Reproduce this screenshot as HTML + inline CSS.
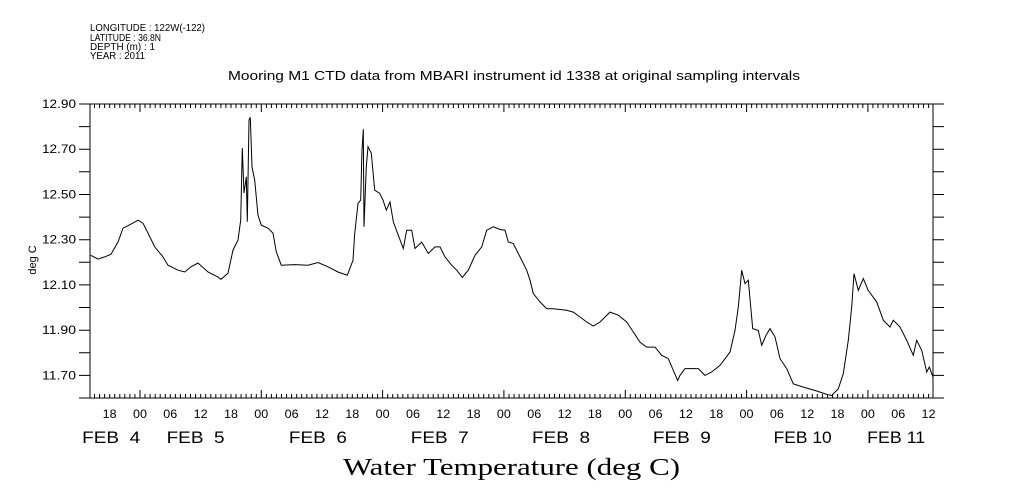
<!DOCTYPE html>
<html><head><meta charset="utf-8">
<style>
html,body{margin:0;padding:0;background:#fff;}
svg{display:block;}
text{font-family:"Liberation Sans",sans-serif;fill:#000;}
</style></head>
<body>
<svg id="chart" width="1009" height="504" viewBox="0 0 1009 504">
  <g font-size="10">
    <text x="90" y="31" textLength="115" lengthAdjust="spacingAndGlyphs">LONGITUDE : 122W(-122)</text>
    <text x="90" y="41" textLength="71" lengthAdjust="spacingAndGlyphs">LATITUDE : 36.8N</text>
    <text x="90" y="50" textLength="65" lengthAdjust="spacingAndGlyphs">DEPTH (m) : 1</text>
    <text x="90" y="59" textLength="55" lengthAdjust="spacingAndGlyphs">YEAR : 2011</text>
  </g>
  <text x="228" y="80" font-size="13" textLength="572" lengthAdjust="spacingAndGlyphs">Mooring M1 CTD data from MBARI instrument id 1338 at original sampling intervals</text>
  <text x="0" y="0" font-size="11" text-anchor="middle" transform="translate(36,260) rotate(-90)">deg C</text>
  <text x="343" y="475" font-size="24" textLength="337" lengthAdjust="spacingAndGlyphs" style="font-family:'Liberation Serif',serif">Water Temperature (deg C)</text>
  <g id="axes"></g>
  <path id="series" fill="none" stroke="#000" stroke-width="1"></path>
</svg>
<script>
// hours relative to FEB 4 00:00 (first labelled "00")
const hours = [-9.75,-8.31,-6.98,-5.74,-4.35,-3.36,-1.78,-0.40,0.59,1.58,2.91,4.55,5.54,7.52,8.84,10.09,11.47,13.45,15.43,16.02,17.41,18.40,19.39,19.92,20.24,20.57,21.03,21.23,21.56,21.82,22.16,22.69,23.34,24.00,25.32,26.31,26.96,27.95,30.60,33.23,35.21,37.19,39.17,41.01,42.14,42.47,43.13,43.66,43.92,44.17,44.31,44.77,45.10,45.76,46.43,47.42,48.07,48.73,49.46,50.11,51.10,52.09,52.76,53.75,54.40,55.73,57.03,58.36,59.35,60.34,61.66,62.65,63.76,64.95,66.27,67.60,68.59,69.89,71.22,72.21,72.86,73.85,75.17,76.50,77.15,77.80,79.13,80.45,81.76,84.41,85.72,87.04,88.37,89.67,91.00,92.98,94.62,96.28,97.59,98.91,100.24,101.88,103.20,104.51,105.50,106.37,106.82,107.81,109.14,110.44,111.77,113.09,114.74,116.72,117.71,118.36,119.03,119.68,120.34,121.21,122.32,122.99,123.84,124.63,125.62,126.61,127.93,129.24,131.22,133.87,135.85,136.84,138.14,139.13,140.12,140.79,141.25,142.10,143.09,144.07,145.74,147.04,148.37,149.02,150.35,151.67,152.98,153.65,154.64,155.63,156.15,156.88];
const temps = [12.231,12.214,12.224,12.236,12.290,12.351,12.369,12.386,12.373,12.329,12.268,12.224,12.187,12.165,12.157,12.180,12.197,12.157,12.135,12.125,12.152,12.254,12.298,12.386,12.705,12.506,12.578,12.379,12.829,12.841,12.622,12.563,12.408,12.364,12.351,12.329,12.246,12.187,12.190,12.187,12.199,12.180,12.157,12.143,12.209,12.327,12.460,12.475,12.696,12.788,12.357,12.622,12.711,12.682,12.519,12.505,12.475,12.431,12.467,12.379,12.320,12.261,12.342,12.342,12.261,12.290,12.239,12.268,12.268,12.224,12.187,12.165,12.133,12.165,12.231,12.268,12.342,12.357,12.345,12.342,12.290,12.283,12.224,12.165,12.121,12.062,12.025,11.995,11.995,11.988,11.980,11.958,11.936,11.918,11.936,11.980,11.966,11.936,11.892,11.847,11.825,11.825,11.789,11.774,11.722,11.678,11.700,11.730,11.730,11.730,11.700,11.715,11.744,11.803,11.899,12.002,12.165,12.106,12.121,11.907,11.899,11.833,11.877,11.907,11.870,11.774,11.730,11.663,11.648,11.631,11.616,11.611,11.641,11.708,11.855,12.002,12.150,12.076,12.128,12.076,12.025,11.944,11.914,11.944,11.914,11.855,11.789,11.855,11.811,11.715,11.737,11.692];
const yTickValues = [11.70,11.90,12.10,12.30,12.50,12.70,12.90];
const yTickLabels = ["11.70","11.90","12.10","12.30","12.50","12.70","12.90"];
const xTickHours = [-6,0,6,12,18,24,30,36,42,48,54,60,66,72,78,84,90,96,102,108,114,120,126,132,138,144,150,156];
const xTickLabels = ["18","00","06","12","18","00","06","12","18","00","06","12","18","00","06","12","18","00","06","12","18","00","06","12","18","00","06","12"];
const dateLabels = ["FEB  4","FEB  5","FEB  6","FEB  7","FEB  8","FEB  9","FEB 10","FEB 11"];
const dateLabelHours = [-5.7,11,35.2,59.3,83.3,107.2,131.1,149.6];

const L=90,R=933,T=104,B=398;
const hMin=-9.89,hMax=156.88,tMin=11.6,tMax=12.9;
const x=h=>L+(h-hMin)/(hMax-hMin)*(R-L);
const y=v=>B-(v-tMin)/(tMax-tMin)*(B-T);
const NS="http://www.w3.org/2000/svg";
const axes=document.getElementById('axes');
function mk(tag,attrs){const e=document.createElementNS(NS,tag);for(const k in attrs)e.setAttribute(k,attrs[k]);return e;}

const frame=mk('rect',{x:L,y:T,width:R-L,height:B-T,fill:'none',stroke:'#000','stroke-width':1});


axes.appendChild(frame);

let d='';
for(let h=Math.ceil(hMin);h<=hMax;h++){
  const xx=x(h).toFixed(1);
  const len=(h%24===0)?8:4;
  d+=`M${xx},${B}V${B-len}M${xx},${T}V${T+len}`;
}
for(let v=11.6;v<=12.9001;v+=0.1){
  const yy=y(v).toFixed(1);
  d+=`M${L},${yy}H${L-11}M${R},${yy}H${R+11}`;
}
const ticks=mk('path',{d:d,stroke:'#000','stroke-width':1,fill:'none'});


axes.appendChild(ticks);

yTickValues.forEach((v,i)=>{
  const t=mk('text',{x:42,y:y(v)+4,'font-size':12,textLength:34,lengthAdjust:'spacingAndGlyphs'});
  t.textContent=yTickLabels[i];
  
  
  axes.appendChild(t);
});
xTickHours.forEach((h,i)=>{
  const t=mk('text',{x:x(h)-7,y:418,'font-size':12,textLength:14,lengthAdjust:'spacingAndGlyphs'});
  t.textContent=xTickLabels[i];
  
  
  axes.appendChild(t);
});
dateLabels.forEach((s,i)=>{
  const t=mk('text',{x:x(dateLabelHours[i])-29,y:443,'font-size':17,textLength:58,lengthAdjust:'spacingAndGlyphs'});
  t.style.whiteSpace='pre';
  t.textContent=s;
  
  
  axes.appendChild(t);
});

let p='';
hours.forEach((h,i)=>{p+=(i?'L':'M')+x(h).toFixed(1)+','+y(temps[i]).toFixed(1);});
document.getElementById('series').setAttribute('d',p);
</script>
</body></html>
